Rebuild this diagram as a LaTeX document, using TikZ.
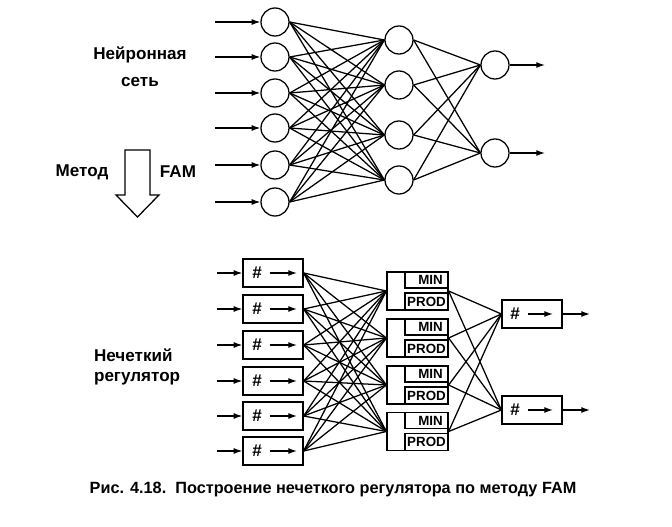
\documentclass[tikz,border=0pt]{standalone}
\usepackage{fontspec}
\setmainfont{Liberation Sans}
\usetikzlibrary{arrows.meta}

\tikzset{
  neuron/.style={draw,circle,minimum size=21pt,inner sep=0pt},
  cellbox/.style={draw,minimum width=45pt,minimum height=21pt,inner sep=0pt},
  ruleblock/.style={draw,minimum width=45.75pt,minimum height=28.5pt,inner sep=0pt},
  opbox/.style={draw,minimum width=32.25pt,inner sep=0pt,font=\bfseries\fontsize{10}{10}\selectfont},
  lbl/.style={font=\bfseries\fontsize{12.8}{15}\selectfont},
  tip/.style={-{Latex[length=6.5pt,width=4.5pt]}},
}

\begin{document}
\begin{tikzpicture}[x=0.75pt,y=-0.75pt,line width=0.95pt]
  \useasboundingbox (0,0) rectangle (672,527);
  % neural network
  \foreach \i/\y in {1/22,2/57,3/93,4/128,5/165,6/202}{
    \node[neuron] (in\i) at (275,\y) {};
    \coordinate (src\i) at (215,\y);
    \draw[tip] (src\i) -- (in\i);
  }
  \foreach \j/\y in {1/40,2/85,3/135,4/180}
    \node[neuron] (hid\j) at (399,\y) {};
  \foreach \k/\y in {1/65,2/153}{
    \node[neuron] (out\k) at (495,\y) {};
    \coordinate (dst\k) at (545,\y);
    \draw[tip] (out\k) -- (dst\k);
  }
  \foreach \i in {1,...,6}
    \foreach \j in {1,...,4}
      \draw (in\i.east) -- (hid\j.west);
  \foreach \j in {1,...,4}
    \foreach \k in {1,2}
      \draw (hid\j.east) -- (out\k.west);
  \node[lbl,align=center] (nnlbl) at (140,66.5) {Нейронная\\[5pt]сеть};
  % method arrow
  \node[lbl] (meth) at (82,172) {Метод};
  \node[lbl] (fam) at (178,172) {FAM};
  \draw (125,150) -- (150,150) -- (150,195) -- (159,195) -- (137.5,217)
    -- (116,195) -- (125,195) -- cycle;
  % fuzzy controller
  \foreach \i/\y in {1/273,2/309,3/345,4/381,5/416,6/451}{
    \node[cellbox] (fz\i) at (273,\y) {};
    \node[lbl] (fh\i) at ([xshift=-12pt]fz\i.center) {\#};
    \draw[tip] ([xshift=-2.5pt]fz\i.center) -- ([xshift=18pt]fz\i.center);
    \coordinate (fsrc\i) at (217,\y);
    \draw[tip] (fsrc\i) -- (fz\i);
  }
  \foreach \j/\y in {1/291,2/338,3/385,4/431.5}{
    \node[ruleblock] (rb\j) at (417.5,\y) {};
    \node[opbox,minimum height=12pt,anchor=north east] (min\j) at (rb\j.north east) {\hspace{6pt}MIN};
    \node[opbox,minimum height=12.75pt,anchor=south east] (prod\j) at (rb\j.south east) {PROD};
  }
  \foreach \k/\y in {1/314,2/410}{
    \node[cellbox] (dz\k) at (532,\y) {};
    \node[lbl] (dh\k) at ([xshift=-12.75pt]dz\k.center) {\#};
    \draw[tip] ([xshift=-3pt]dz\k.center) -- ([xshift=15.75pt]dz\k.center);
    \coordinate (fdst\k) at (590,\y);
    \draw[tip] (dz\k) -- (fdst\k);
  }
  \foreach \i in {1,...,6}
    \foreach \j in {1,...,4}
      \draw (fz\i.east) -- (rb\j.west);
  \foreach \j in {1,...,4}
    \foreach \k in {1,2}
      \draw (rb\j.east) -- (dz\k.west);
  \node[lbl,align=left,anchor=west] (fclbl) at (89,367) {Нечеткий\\[0pt]регулятор};
  % caption
  \node[lbl,font=\bfseries\fontsize{12.2}{14}\selectfont] (cap) at (333,490) {Рис. 4.18.\ \ Построение нечеткого регулятора по методу FAM};
\end{tikzpicture}
\end{document}
